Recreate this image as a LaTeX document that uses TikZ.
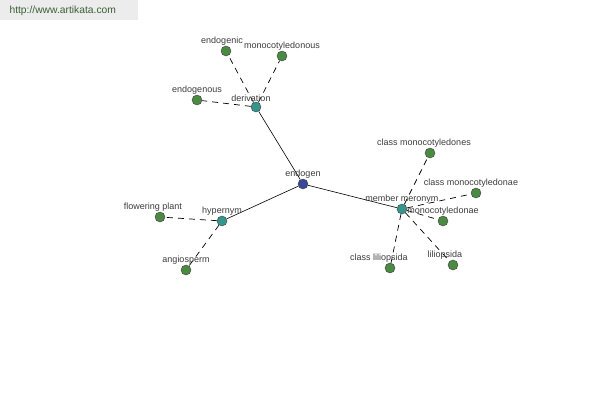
\documentclass[tikz,border=0pt]{standalone}
\usepackage{fontspec}
\setmainfont{Liberation Sans}
\usepackage{tikz}
\usetikzlibrary{backgrounds}
\definecolor{leafgreen}{RGB}{74,138,66}
\definecolor{relteal}{RGB}{52,150,140}
\definecolor{rootblue}{RGB}{58,72,150}
\definecolor{lblgray}{RGB}{60,60,60}
\definecolor{headgray}{RGB}{236,236,236}
\definecolor{headtext}{RGB}{60,95,55}

\begin{document}
\begin{tikzpicture}[
    x=1pt, y=-1pt,
    font=\fontsize{9}{10}\selectfont,
    word/.style={circle, draw=black!75, fill=leafgreen, minimum size=10pt, inner sep=0pt},
    relation/.style={word, fill=relteal},
    root/.style={word, fill=rootblue},
    lbl/.style={text=lblgray, inner sep=0.5pt},
    tree/.style={black, line width=0.6pt},
    link/.style={black, line width=0.7pt, dash pattern=on 6pt off 5pt}
]
\useasboundingbox (0,0) rectangle (600,400);
\fill[headgray] (0,0) rectangle (138,20);
\node[text=headtext, anchor=west, font=\fontsize{10.3}{11}\selectfont] (site) at (6,11) {http://www.artikata.com};

% centre and relations
\node[root, label={[lbl]above:endogen}] (endogen) at (303,184) {};
\node[relation, label={[lbl, xshift=-5pt]above:derivation}] (deriv) at (256,107) {};
\node[relation, label={[lbl]above:hypernym}] (hyper) at (222,221) {};
\node[relation, label={[lbl]above:member meronym}] (member) at (402,209) {};

% words
\node[word, label={[lbl, xshift=-4pt]above:endogenic}] (endogenic) at (226,51) {};
\node[word, label={[lbl]above:monocotyledonous}] (monocot) at (282,56) {};
\node[word, label={[lbl]above:endogenous}] (endogenous) at (197,100) {};
\node[word, label={[lbl, xshift=-7pt]above:flowering plant}] (flowering) at (160,217) {};
\node[word, label={[lbl]above:angiosperm}] (angio) at (186,270) {};
\node[word, label={[lbl, xshift=-6pt]above:class monocotyledones}] (classmonos) at (430,153) {};
\node[word, label={[lbl, xshift=-5pt]above:class monocotyledonae}] (classmonae) at (476,193) {};
\node[word, label={[lbl]above:monocotyledonae}] (monae) at (443,221) {};
\node[word, label={[lbl, xshift=-11pt]above:class liliopsida}] (classlili) at (390,268) {};
\node[word, label={[lbl, xshift=-8pt]above:liliopsida}] (lili) at (453,265) {};

\begin{scope}[on background layer]
\draw[tree] (endogen) -- (deriv);
\draw[tree] (endogen) -- (hyper);
\draw[tree] (endogen) -- (member);
\draw[link] (deriv) -- (endogenic);
\draw[link] (deriv) -- (monocot);
\draw[link] (deriv) -- (endogenous);
\draw[link] (hyper) -- (flowering);
\draw[link] (hyper) -- (angio);
\draw[link] (member) -- (classmonos);
\draw[link] (member) -- (classmonae);
\draw[link] (member) -- (monae);
\draw[link] (member) -- (classlili);
\draw[link] (member) -- (lili);
\end{scope}
\end{tikzpicture}
\end{document}
